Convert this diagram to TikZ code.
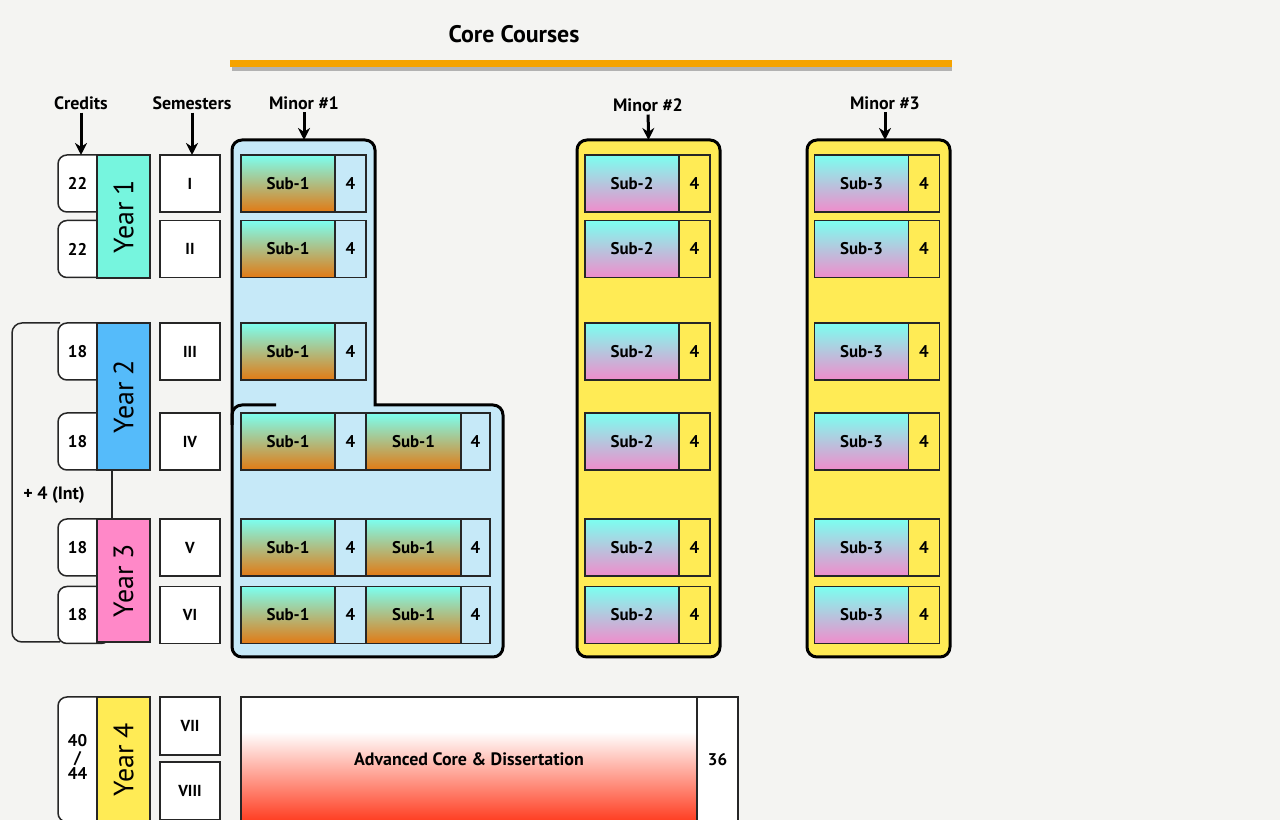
\documentclass[tikz,border=0pt]{standalone}
\usepackage{fontspec}
\setmainfont{PT Sans}
\usetikzlibrary{arrows.meta}
\definecolor{advred}{HTML}{FF3B1E}
\pgfdeclareverticalshading{advshade}{100bp}{color(0bp)=(advred); color(25bp)=(advred); color(61bp)=(white); color(100bp)=(white)}

\begin{document}
\begin{tikzpicture}[x=1bp,y=1bp,>={Stealth[length=12bp,width=12bp]},
  every node/.style={font=\fontsize{17}{19}\selectfont\bfseries,inner sep=0,outer sep=0,align=center},
  cell/.style={draw=black!85,line width=1.3bp,minimum height=57bp},
  subone/.style={cell,minimum width=94bp,top color=subtop,bottom color=suborange},
  subtwo/.style={cell,minimum width=94bp,top color=subtop,bottom color=subpink},
  cellone/.style={cell,minimum width=31bp,fill=paneblue},
  celltwo/.style={cell,minimum width=31bp,fill=paneyellow},
  semcell/.style={cell,minimum width=60bp,fill=white,font=\fontsize{16}{18}\selectfont\bfseries},
  credframe/.style={draw=black!85,line width=1.5bp,fill=white,rounded corners=9},
  headlabel/.style={font=\fontsize{18}{20}\selectfont\bfseries},
  yearbox/.style={draw=black!85,line width=1.3bp,minimum width=53bp,font=\fontsize{28}{30}\selectfont},
  arrowline/.style={->,line width=3bp,shorten <=3bp},
  panelone/.style={draw=black,line width=3bp,fill=paneblue},
  paneltwo/.style={draw=black,line width=3bp,fill=paneyellow,rounded corners=10,minimum width=143bp,minimum height=517bp}]
\path[use as bounding box] (0,0) rectangle (1280,820);
\clip (0,0) rectangle (1280,820);
\definecolor{bgpale}{HTML}{F4F4F2}
\definecolor{barorange}{HTML}{F5A300}
\definecolor{paneblue}{HTML}{C6E9F8}
\definecolor{paneyellow}{HTML}{FFEB55}
\definecolor{subtop}{HTML}{7CFFF0}
\definecolor{suborange}{HTML}{E27A14}
\definecolor{subpink}{HTML}{F08CCB}
\definecolor{yrteal}{HTML}{76F5DE}
\definecolor{yrblue}{HTML}{55BBFA}
\definecolor{yrpink}{HTML}{FF88C8}
\fill[bgpale] (0,0) rectangle (1280,820);
\node[font=\fontsize{24}{26}\selectfont\bfseries] (title) at (514,786) {Core Courses};
\draw[line width=4bp,black!30] (232,751) -- (952,751);
\draw[line width=7bp,barorange] (230,756.5) -- (952,756.5);
\node[headlabel] (lcred) at (81,717) {Credits};
\node[headlabel] (lsem) at (192,717) {Semesters};
\node[headlabel] (lmin1) at (304,717) {Minor \#1};
\node[headlabel] (lmin2) at (648,715) {Minor \#2};
\node[headlabel] (lmin3) at (885,717) {Minor \#3};
\draw[line width=1.5bp,black!85,rounded corners=10] (60,497) -- (12,497) -- (12,178) -- (60,178);
\node[font=\fontsize{18}{20}\selectfont\bfseries] (intl) at (54,325) {+ 4 (Int)};
\foreach \yc/\cr/\sm [count=\r] in {636.5/22/I,571/22/II,468.5/18/III,378.5/18/IV,272.5/18/V,205/18/VI}{
\draw[credframe] (58,\yc-28.5) rectangle (110,\yc+28.5);
\node[minimum width=39bp,minimum height=57bp] (cr\r) at (77.5,\yc) {\cr};
\node[semcell] (sem\r) at (190,\yc) {\sm};}
\draw[credframe] (58,-2) rectangle (110,123);
\node[align=center,font=\fontsize{17}{17}\selectfont\bfseries] (cr7) at (77.5,63) {40\\/\\44};
\node[semcell,minimum height=58bp] (sem7) at (190,94) {VII};
\node[semcell,minimum height=58bp] (sem8) at (190,29) {VIII};
\node[yearbox,fill=yrteal,minimum height=123bp] (yr1) at (123.5,603.5) {\rotatebox{90}{Year 1}};
\node[yearbox,fill=yrblue,minimum height=147bp] (yr2) at (123.5,423.5) {\rotatebox{90}{Year 2}};
\node[yearbox,fill=yrpink,minimum height=123bp] (yr3) at (123.5,239.5) {\rotatebox{90}{Year 3}};
\node[yearbox,fill=paneyellow,minimum height=125bp] (yr4) at (123.5,60.5) {\rotatebox{90}{Year 4}};
\draw[line width=1.5bp,black!85] ([xshift=-11.5bp]yr2.south) -- ([xshift=-11.5bp]yr3.north);
\draw[panelone] (375,500) [sharp corners] -- (375,415) -- (440,415) [rounded corners=10] -- (503,415) -- (503,163) -- (232,163) -- (232,680) -- (375,680) -- cycle;
\draw[line width=3bp,rounded corners=10] (232,395) -- (232,415) -- (276,415);
\coordinate (mn1top) at (304,680);
\node[paneltwo] (mn2) at (648.5,421.5) {};
\node[paneltwo] (mn3) at (878.5,421.5) {};
\foreach \yc [count=\r] in {636.5,571,468.5,378.5,272.5,205}{
\node[subone] (ma\r) at (288,\yc) {Sub-1};
\node[cellone,anchor=west] (mac\r) at (ma\r.east) {4};
\node[subtwo] (mb\r) at (632,\yc) {Sub-2};
\node[celltwo,anchor=west] (mbc\r) at (mb\r.east) {4};
\node[subtwo] (mc\r) at (861.5,\yc) {Sub-3};
\node[celltwo,anchor=west] (mcc\r) at (mc\r.east) {4};}
\foreach \r in {4,5,6}{
\node[subone,minimum width=95bp,anchor=west] (md\r) at (mac\r.east) {Sub-1};
\node[cellone,minimum width=29bp,anchor=west] (mdc\r) at (md\r.east) {4};}
\node[cell,shading=advshade,minimum width=456bp,minimum height=125bp,font=\fontsize{18}{20}\selectfont\bfseries] (adv) at (469,60.5) {Advanced Core \& Dissertation};
\node[cell,fill=white,minimum width=41bp,minimum height=125bp] (c36) at (717.5,60.5) {36};
\draw[arrowline] (lcred) -- (lcred |- cr1.north);
\draw[arrowline] (lsem) -- (lsem |- sem1.north);
\draw[arrowline] (lmin1) -- (mn1top);
\draw[arrowline] (lmin2) -- (mn2.north);
\draw[arrowline] (lmin3) -- (lmin3 |- mn3.north);
\end{tikzpicture}
\end{document}
